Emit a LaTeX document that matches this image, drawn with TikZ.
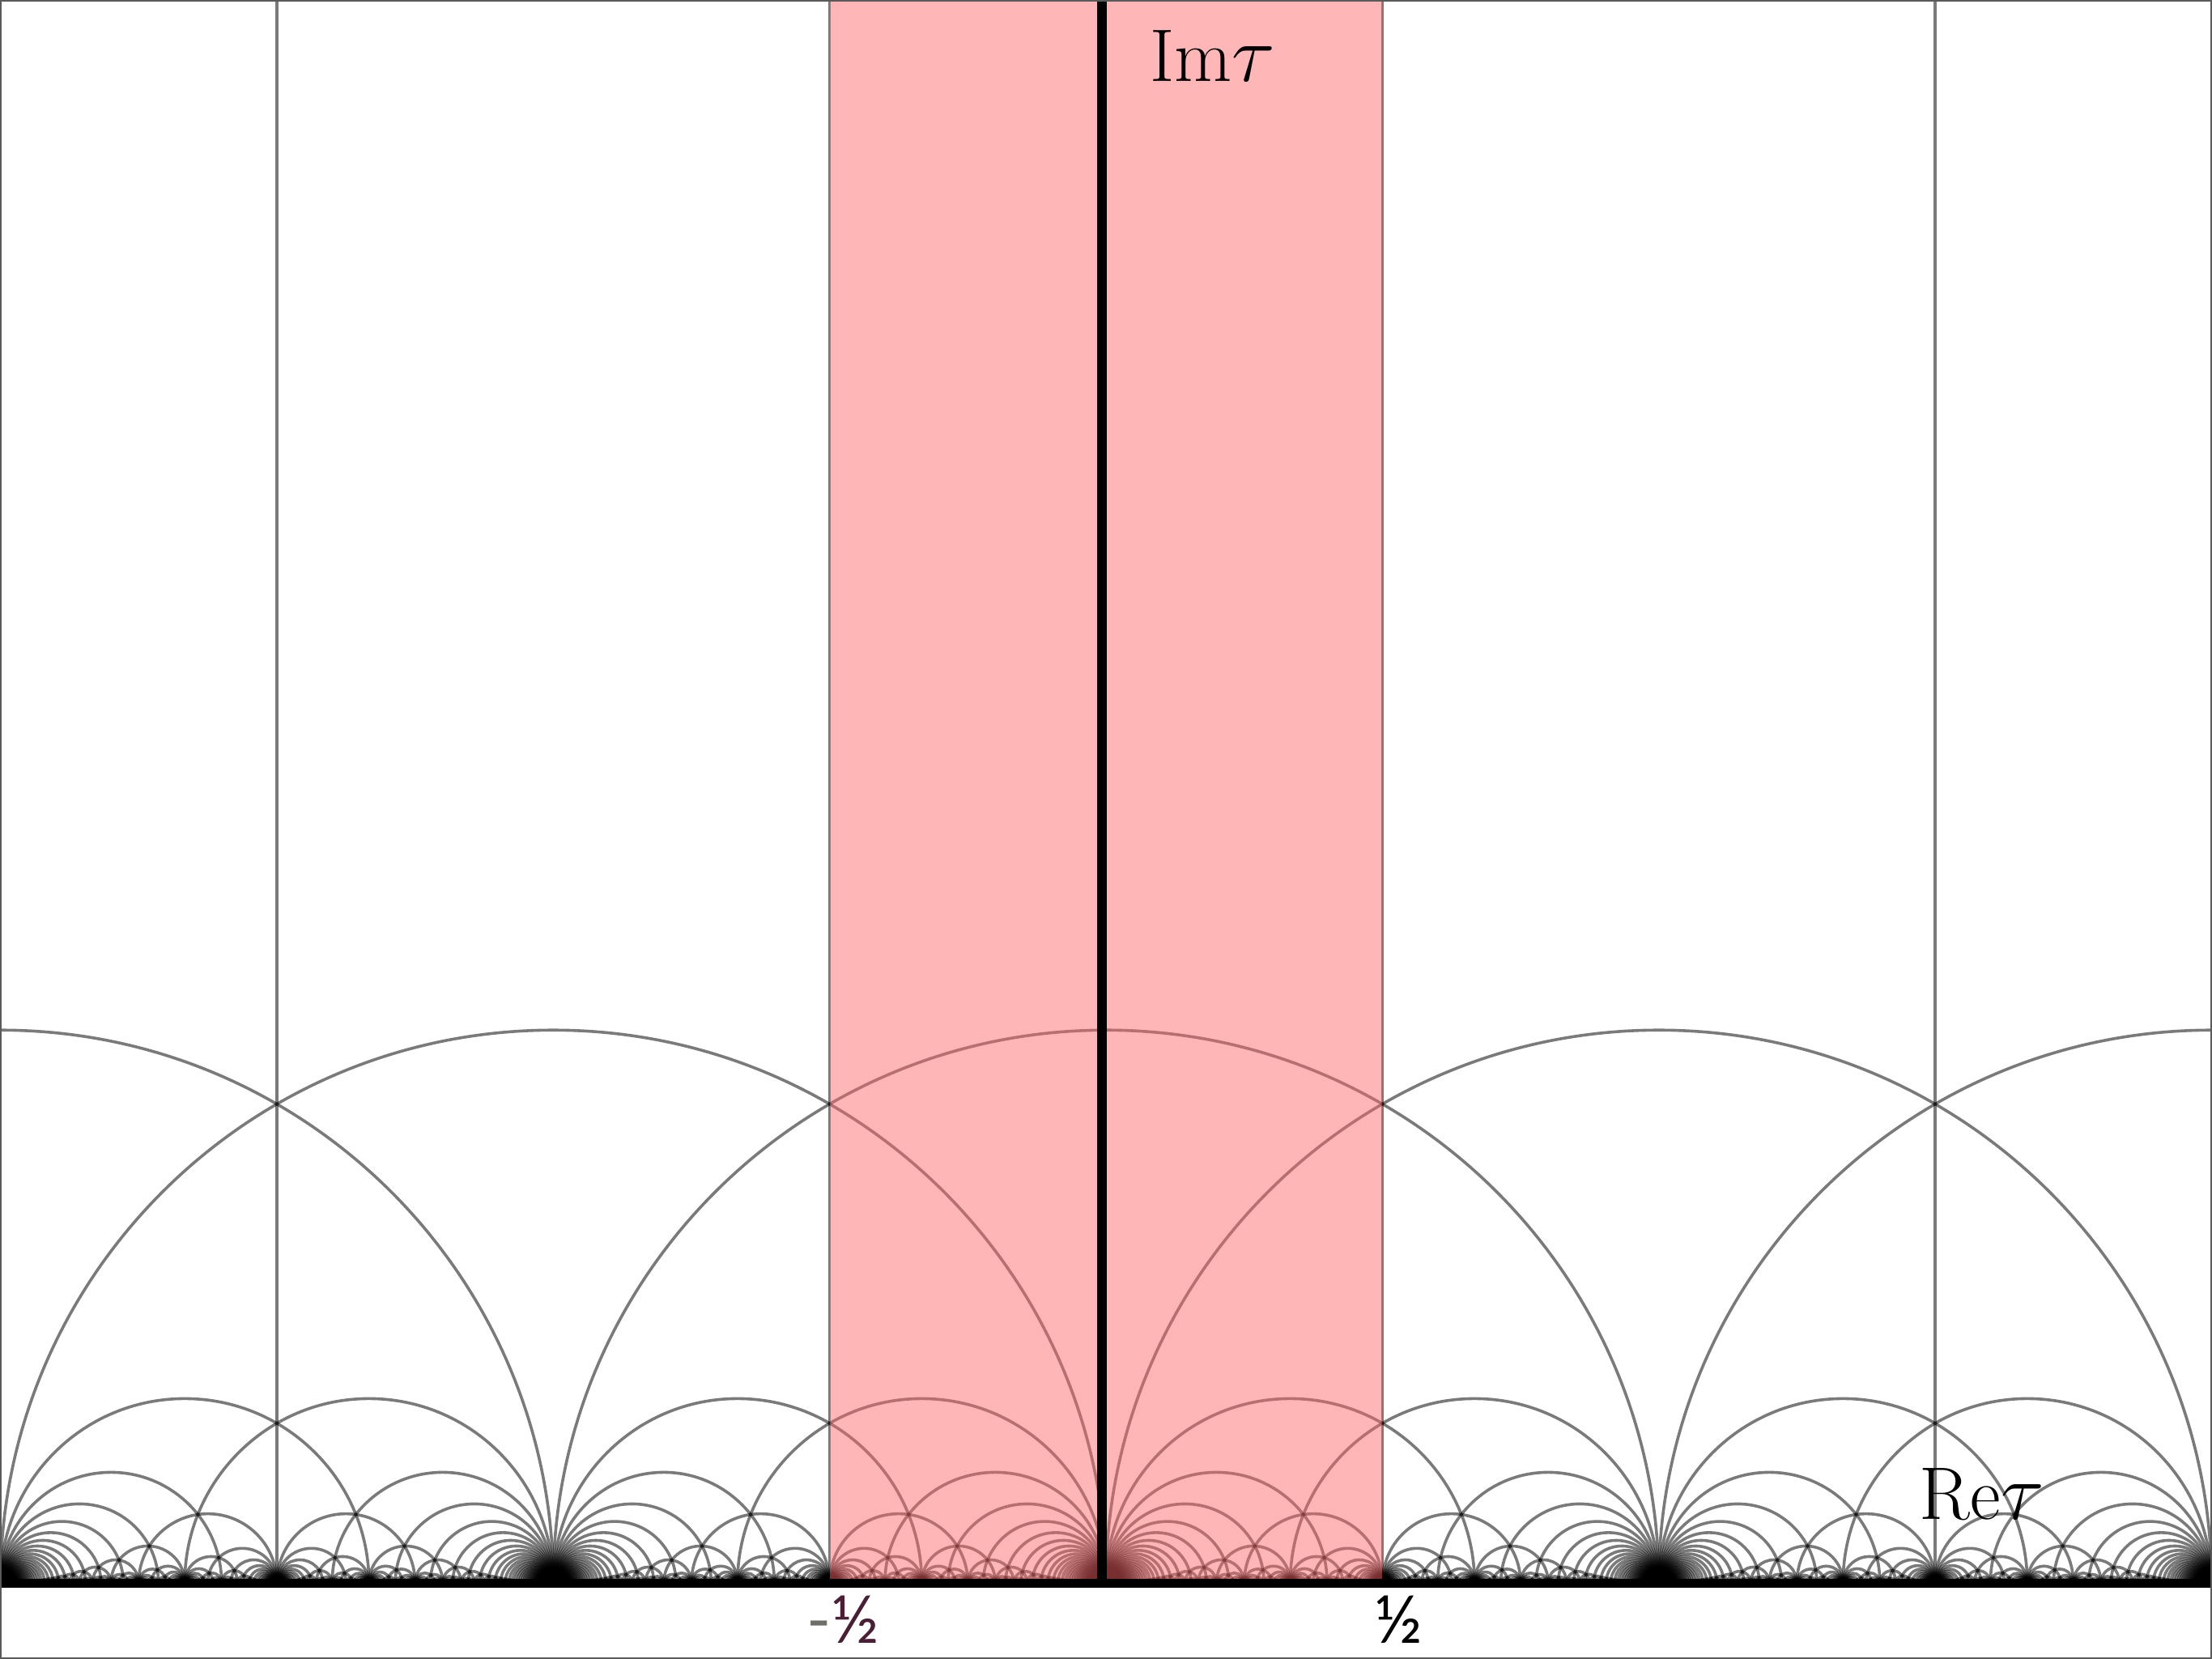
\documentclass[tikz,border=0pt]{standalone}
\usepackage{fontspec}
\newfontfamily\latofont{Lato}
\definecolor{stripred}{RGB}{255,100,100}
\definecolor{framegray}{RGB}{90,90,90}
\definecolor{halfred}{RGB}{74,30,52}
\definecolor{minusgray}{RGB}{110,110,104}
\tikzset{
  tessline/.style={draw=black, draw opacity=0.52, line width=0.75pt},
  strip/.style={fill=stripred, fill opacity=0.47},
  axisline/.style={draw=black, line width=2.5pt},
  baseband/.style={draw=black, line width=2.3pt},
  bigtext/.style={inner sep=0pt, anchor=base west, font=\fontsize{19.2}{23}\selectfont},
  halftext/.style={inner sep=0pt, font=\latofont\fontsize{17}{20}\selectfont},
  framebox/.style={draw=framegray, line width=0.9pt}
}
\newdimen\geoU \geoU=5cm
\newdimen\geoXa \newdimen\geoXb \newdimen\geoC \newdimen\geoR \newdimen\geoKk \newdimen\geoOff
\newcount\geoNa \newcount\geoNb \newcount\geoKa \newcount\geoKb
\def\fareyK{700}
% semicircle (geodesic) between #1/#2 and #3/#4 (shifted by \geoOff)
\def\geo#1#2#3#4{%
  \geoNa=\numexpr#1\relax \geoNb=\numexpr#2\relax
  \geoXa=\dimexpr\geoU*\geoNa/\geoNb\relax
  \geoNa=\numexpr#3\relax \geoNb=\numexpr#4\relax
  \geoXb=\dimexpr\geoU*\geoNa/\geoNb\relax
  \geoC=\dimexpr(\geoXa+\geoXb)/2+\geoOff\relax
  \geoR=\dimexpr(\geoXb-\geoXa)/2\relax
  \ifdim\geoR<0pt \geoR=-\geoR \fi
  \geoKk=\dimexpr\geoR*55228/100000\relax
  \pgfpathmoveto{\pgfqpoint{\dimexpr\geoC+\geoR\relax}{0pt}}%
  \pgfpathcurveto{\pgfqpoint{\dimexpr\geoC+\geoR\relax}{\geoKk}}{\pgfqpoint{\dimexpr\geoC+\geoKk\relax}{\geoR}}{\pgfqpoint{\geoC}{\geoR}}%
  \pgfpathcurveto{\pgfqpoint{\dimexpr\geoC-\geoKk\relax}{\geoR}}{\pgfqpoint{\dimexpr\geoC-\geoR\relax}{\geoKk}}{\pgfqpoint{\dimexpr\geoC-\geoR\relax}{0pt}}%
  \pgfusepath{stroke}}
% Farey edge a/b , c/d
\def\farey#1#2#3#4{%
  \geoKa=\numexpr(#2)*((#2)+2*(#4))\relax
  \geoKb=\numexpr(#4)*(2*(#2)+(#4))\relax
  \let\fareyNext\relax
  \ifnum\geoKa>\fareyK\relax\else\def\fareyNext{\fareyA{#1}{#2}{#3}{#4}}\fi
  \ifnum\geoKb>\fareyK\relax\else\def\fareyNext{\fareyA{#1}{#2}{#3}{#4}}\fi
  \fareyNext}
\def\fareyA#1#2#3#4{%
  \ifnum\geoKa>\fareyK\relax\else\geo{#1}{#2}{(#1)+2*(#3)}{(#2)+2*(#4)}\fi
  \ifnum\geoKb>\fareyK\relax\else\geo{2*(#1)+(#3)}{2*(#2)+(#4)}{#3}{#4}\fi
  \edef\fareyNext{\noexpand\farey{#1}{#2}{\the\numexpr#1+#3\relax}{\the\numexpr#2+#4\relax}%
    \noexpand\farey{\the\numexpr#1+#3\relax}{\the\numexpr#2+#4\relax}{#3}{#4}}%
  \fareyNext}
\begin{document}
\begin{tikzpicture}[x=5cm,y=5cm]
\coordinate (ll) at (-2.0009,-0.1377);
\coordinate (ur) at (2.0009,2.8636);
\useasboundingbox (ll) rectangle (ur);
\fill[white] (ll) rectangle (ur);
% tessellation
\begin{scope}
  \clip (-2.0009,0) rectangle (ur);
  \foreach \n in {-2,...,2} {\draw[tessline] (\n,0) circle[radius=1];}
  \foreach \v in {-1.5,-0.5,0.5,1.5} {\draw[tessline] (\v,0) -- (\v,2.8636);}
  \foreach \n in {-2,-1,0,1} {%
    \pgfsetlinewidth{0.75pt}\pgfsetstrokecolor{black}\pgfsetstrokeopacity{0.52}%
    \geoOff=\n\geoU
    \farey{0}{1}{1}{1}%
  }
\end{scope}
% red strip
\coordinate (sl) at (-0.5,0);
\coordinate (sr) at (0.5,2.8636);
\fill[strip] (sl) rectangle (sr);
% axes
\coordinate (axb) at (-0.0073,0);
\coordinate (axt) at (-0.0073,2.8636);
\draw[axisline] (axb) -- (axt);
\coordinate (bl) at (-2.0009,-0.0007);
\coordinate (br) at (2.0009,-0.0007);
\draw[baseband] (bl) -- (br);
% labels
\node[bigtext] (im) at (0.078,2.716) {$\mathrm{Im}\tau$};
\node[bigtext] (re) at (1.4706,0.1143) {$\mathrm{Re}\tau$};
\node[halftext] (mhalf) at (-0.476,-0.0659) {\textcolor{minusgray}{-}\textcolor{halfred}{½}};
\node[halftext] (phalf) at (0.529,-0.0659) {½};
% frame
\draw[framebox] (ll) rectangle (ur);
\end{tikzpicture}
\end{document}
